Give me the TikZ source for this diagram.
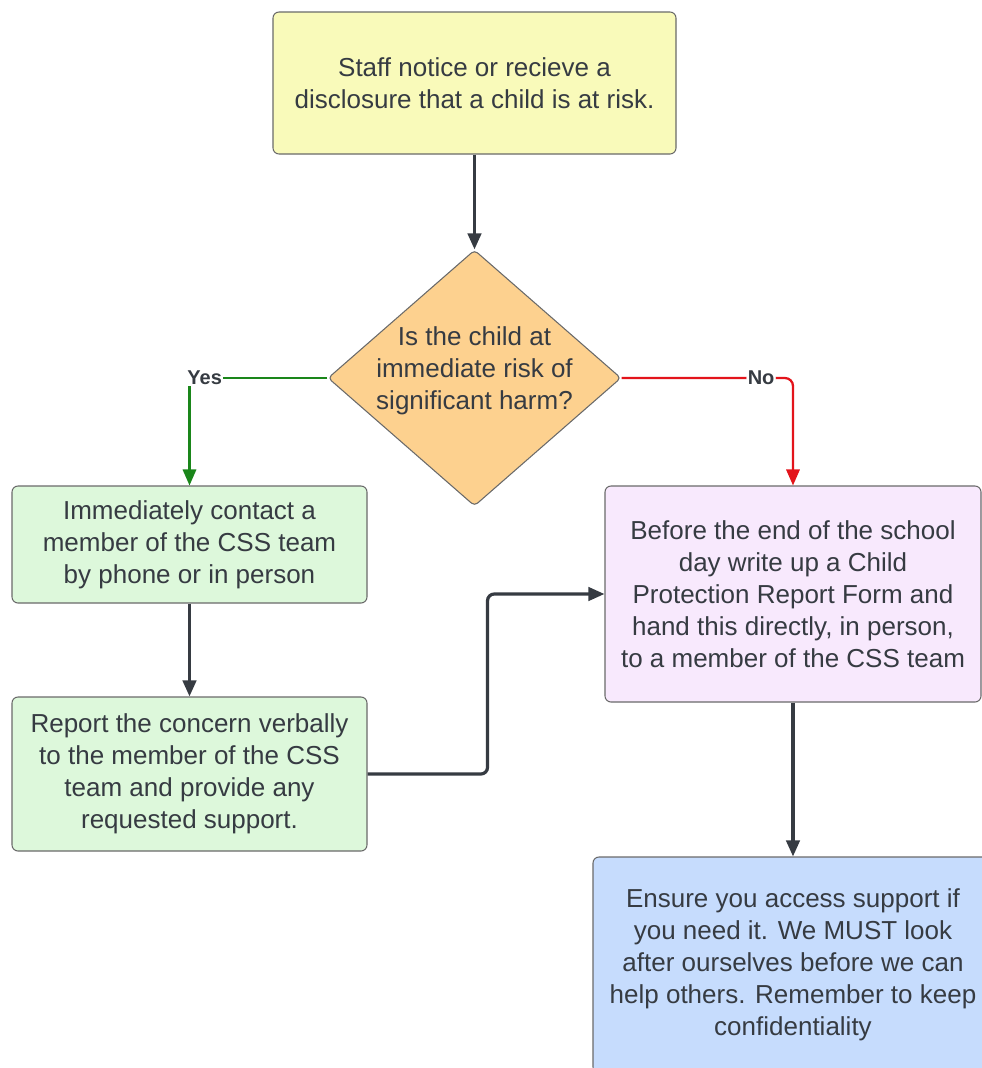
\documentclass[tikz,border=0pt]{standalone}
\usepackage{fontspec}
\setmainfont{Liberation Sans}
\usepackage{tikz}
\usetikzlibrary{arrows.meta,shapes.geometric,positioning}

\definecolor{startfill}{HTML}{F9FABA}
\definecolor{askfill}{HTML}{FDD18F}
\definecolor{actfill}{HTML}{DDF8DB}
\definecolor{reportfill}{HTML}{F8E9FD}
\definecolor{carefill}{HTML}{C6DCFD}
\definecolor{edge}{HTML}{6A6A6A}
\definecolor{ink}{HTML}{363B42}
\definecolor{yesgreen}{HTML}{1A861A}
\definecolor{nored}{HTML}{E3141B}

\begin{document}
\begin{tikzpicture}[
x=0.75pt, y=-0.75pt,
stepbox/.style={rectangle, draw=edge, line width=0.8pt, rounded corners=4.5pt, align=center, text=ink, font=\fontsize{19.5}{24}\selectfont},
question/.style={diamond, draw=edge, line width=0.8pt, rounded corners=3pt, fill=askfill, align=center, text=ink, inner sep=-12pt, text depth=14.5pt, minimum width=219.75pt, minimum height=192pt, font=\fontsize{19.5}{24}\selectfont},
flow/.style={-{Triangle[length=12pt,width=10pt]}, line width=2.4pt, draw=ink, rounded corners=5pt},
yesflow/.style={-{Triangle[length=12pt,width=10pt]}, line width=1.7pt, draw=yesgreen},
noflow/.style={-{Triangle[length=12pt,width=10pt]}, line width=1.7pt, draw=nored, rounded corners=6pt},
branch/.style={fill=white, inner sep=1pt, text=ink, font=\bfseries\fontsize{15}{17}\selectfont}
]
\useasboundingbox (0,0) rectangle (982,1068);
\clip (0,0) rectangle (982,1068);
\node[stepbox, fill=startfill, minimum width=302.25pt, minimum height=106.5pt] (notice) at (474.5,83) {Staff notice or recieve a\\disclosure that a child is at risk.};
\node[question] (risk) at (474.5,378) {Is the child at\\immediate risk of\\significant harm?};
\node[stepbox, fill=actfill, minimum width=266.25pt, minimum height=87.75pt] (contact) at (189.5,544.5) {Immediately contact a\\member of the CSS team\\by phone or in person};
\node[stepbox, fill=actfill, minimum width=266.25pt, minimum height=115.5pt] (verbal) at (189.5,774) {Report the concern verbally\\to the member of the CSS\\team and provide any\\requested support.};
\node[stepbox, fill=reportfill, minimum width=282pt, minimum height=162pt] (form) at (793,594) {Before the end of the school\\day write up a Child\\Protection Report Form and\\hand this directly, in person,\\to a member of the CSS team};
\node[stepbox, fill=carefill, minimum width=300pt, minimum height=162pt] (care) at (793,965) {Ensure you access support if\\you need it. We MUST look\\after ourselves before we can\\help others. Remember to keep\\confidentiality};
\draw[flow] (notice) -- (risk);
\draw[yesflow] (risk.west) -| node[branch, pos=0.445] {Yes} (contact.north);
\draw[noflow] (risk.east) -| node[branch, pos=0.407] {No} (form.north);
\draw[flow] (contact) -- (verbal);
\draw[flow] (verbal.east) -- ++(120,0) |- (form.west);
\draw[flow] (form) -- (care);
\end{tikzpicture}
\end{document}
